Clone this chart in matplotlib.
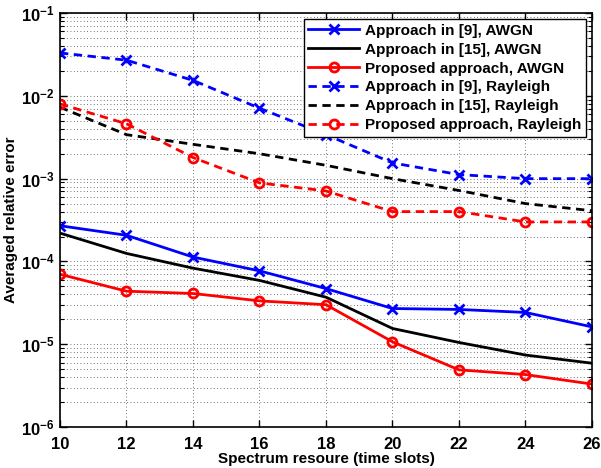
import matplotlib
matplotlib.use('Agg')
import matplotlib.pyplot as plt
from matplotlib.ticker import LogLocator, NullFormatter

plt.rcParams['font.family'] = ['Liberation Sans', 'DejaVu Sans']
plt.rcParams['font.weight'] = 'bold'
plt.rcParams['mathtext.fontset'] = 'custom'
plt.rcParams['mathtext.rm'] = 'Liberation Sans:bold'
plt.rcParams['mathtext.it'] = 'Liberation Sans:bold'
plt.rcParams['mathtext.bf'] = 'Liberation Sans:bold'
plt.rcParams['mathtext.default'] = 'rm'

# time slots
slots = [10, 12, 14, 16, 18, 20, 22, 24, 26]

# AWGN
ref9_awgn = [2.7e-4, 2.07e-4, 1.13e-4, 7.7e-5, 4.7e-5, 2.7e-5, 2.63e-5, 2.42e-5, 1.62e-5]
ref15_awgn = [2.2e-4, 1.25e-4, 8.3e-5, 5.9e-5, 3.7e-5, 1.55e-5, 1.05e-5, 7.4e-6, 5.9e-6]
prop_awgn = [7.0e-5, 4.37e-5, 4.1e-5, 3.34e-5, 3.0e-5, 1.07e-5, 4.9e-6, 4.3e-6, 3.3e-6]

# Rayleigh
ref9_ray = [0.033, 0.027, 0.0154, 0.0071, 0.0034, 0.00155, 0.00112, 0.001, 0.001]
ref15_ray = [0.0073, 0.0034, 0.0026, 0.002, 0.00145, 0.001, 0.00072, 0.0005, 0.00041]
prop_ray = [0.008, 0.0046, 0.0018, 0.00089, 0.00071, 0.0004, 0.0004, 0.0003, 0.0003]

labels = ['Approach in [9], AWGN', 'Approach in [15], AWGN', 'Proposed approach, AWGN',
          'Approach in [9], Rayleigh', 'Approach in [15], Rayleigh', 'Proposed approach, Rayleigh']

fig = plt.figure(figsize=(6.01, 4.68), dpi=100)
ax = fig.add_axes([0.0998, 0.0876, 0.8852, 0.8844])

lw = 2
ms = 6.5
dash = (3, 2)
ax.plot(slots, ref9_awgn, '-', color='b', lw=lw, marker='x', ms=ms, mew=2, label=labels[0])
ax.plot(slots, ref15_awgn, '-', color='k', lw=lw, label=labels[1])
ax.plot(slots, prop_awgn, '-', color='r', lw=lw, marker='o', ms=ms, mew=2, mfc='none', label=labels[2])
ax.plot(slots, ref9_ray, '--', dashes=dash, color='b', lw=lw, marker='x', ms=ms, mew=2, label=labels[3])
ax.plot(slots, ref15_ray, '--', dashes=dash, color='k', lw=lw, label=labels[4])
ax.plot(slots, prop_ray, '--', dashes=dash, color='r', lw=lw, marker='o', ms=ms, mew=2, mfc='none', label=labels[5])

ax.set_yscale('log')
ax.set_xlim(10, 26)
ax.set_ylim(1e-6, 1e-1)
ax.set_xticks(range(10, 27, 2))
ax.yaxis.set_major_locator(LogLocator(base=10, numticks=10))
ax.yaxis.set_minor_locator(LogLocator(base=10, subs=range(2, 10), numticks=20))
ax.yaxis.set_minor_formatter(NullFormatter())

grid_style = dict(linestyle=(0, (1, 3)), color='#444444', lw=0.6)
ax.grid(True, which='major', axis='x', **grid_style)
ax.grid(True, which='both', axis='y', **grid_style)
ax.tick_params(which='both', direction='in', top=True, right=True, labelsize=12)
ax.tick_params(which='major', length=5, width=1)
ax.tick_params(which='minor', length=3, width=0.8)
ax.tick_params(axis='x', pad=7)
ax.tick_params(axis='y', pad=4)
for s in ax.spines.values():
    s.set_linewidth(1.2)

ax.set_xlabel('Spectrum resoure (time slots)', fontsize=11, fontweight='bold', labelpad=0)
ax.set_ylabel('Averaged relative error', fontsize=11, fontweight='bold', labelpad=2)

leg = ax.legend(loc='upper right', fontsize=11, fancybox=False, framealpha=1,
                edgecolor='k', handlelength=3.3, labelspacing=0.32, borderpad=0.3,
                handletextpad=0.4, borderaxespad=0.4, numpoints=1)
leg.get_frame().set_linewidth(1)

fig.savefig('out.png', dpi=100)
